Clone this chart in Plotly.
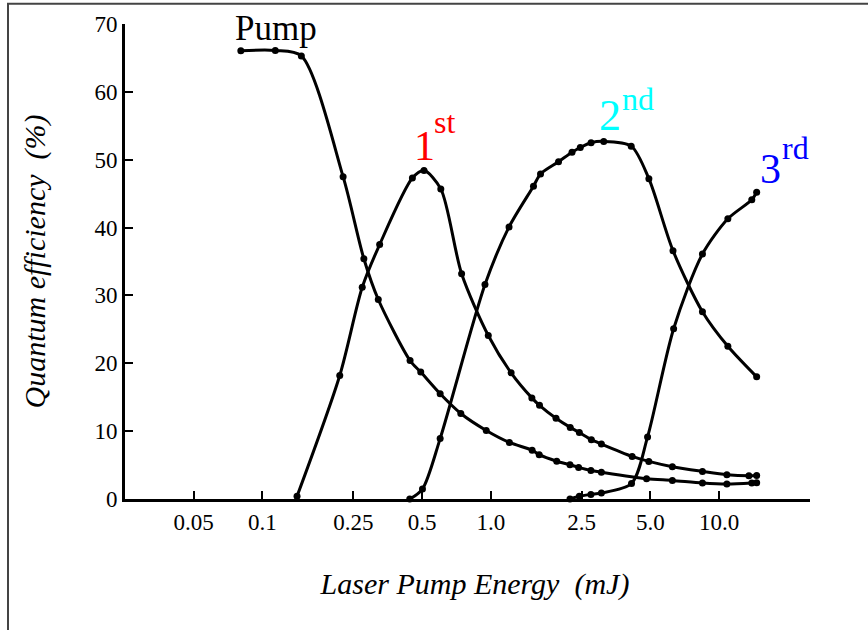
import plotly.graph_objects as go

# ---- data ----
pump_x = [0.0804, 0.1138, 0.148, 0.2255, 0.278, 0.3215, 0.443, 0.4933, 0.600, 0.739,
          0.955, 1.206, 1.517, 1.629, 1.944, 2.222, 2.424, 2.744, 3.05, 4.81, 6.24, 8.45, 10.81, 13.9, 14.6]
pump_y = [66.06, 66.1, 65.3, 47.5, 35.4, 29.4, 20.4, 18.7, 15.5, 12.6,
          10.1, 8.34, 7.19, 6.53, 5.57, 5.05, 4.66, 4.20, 3.95, 2.99, 2.74, 2.36, 2.21, 2.35, 2.4]

first_x = [0.1417, 0.218, 0.2735, 0.326, 0.4535, 0.510, 0.604, 0.745, 0.975, 1.227, 1.513, 1.634,
           1.93, 2.228, 2.442, 2.757, 3.05, 4.16, 4.92, 6.24, 8.45, 10.81, 13.5, 14.6]
first_y = [0.4, 18.2, 31.2, 37.5, 47.3, 48.4, 45.7, 33.2, 24.1, 18.6, 14.9, 13.8,
           11.9, 10.55, 9.8, 8.74, 8.1, 6.28, 5.54, 4.76, 4.07, 3.58, 3.43, 3.48]

second_x = [0.4416, 0.502, 0.600, 0.943, 1.202, 1.538, 1.651, 1.98, 2.268, 2.466, 2.749, 3.123,
            4.12, 4.924, 6.28, 8.45, 10.92, 14.6]
second_y = [0.0, 1.47, 8.9, 31.6, 40.1, 46.1, 47.9, 49.7, 51.1, 51.8, 52.5, 52.7,
            52.0, 47.2, 36.6, 27.6, 22.5, 18.0]

third_x = [2.222, 2.442, 2.744, 3.05, 4.133, 4.859, 6.32, 8.45, 10.92, 13.9, 14.6]
third_y = [0.0, 0.41, 0.68, 0.88, 2.28, 9.15, 25.1, 36.1, 41.3, 44.1, 45.2]

x_tick_vals = [0.05, 0.1, 0.25, 0.5, 1.0, 2.5, 5.0, 10.0, 25.0]
x_tick_text = ["0.05", "0.1", "0.25", "0.5", "1.0", "2.5", "5.0", "10.0", " "]
y_tick_vals = [0, 10, 20, 30, 40, 50, 60, 70]

SERIF = "Liberation Serif"

fig = go.Figure()
for xs, ys in [(pump_x, pump_y), (first_x, first_y), (second_x, second_y), (third_x, third_y)]:
    fig.add_trace(go.Scatter(
        x=xs, y=ys, mode="lines+markers",
        line=dict(color="black", width=3, shape="spline", smoothing=0.8),
        marker=dict(color="black", size=7),
        showlegend=False, cliponaxis=False,
    ))


def label(text, x, y, size, color):
    return dict(text=text, x=x, y=y, xref="x", yref="y", showarrow=False,
                xanchor="left", yanchor="middle",
                font=dict(family=SERIF, size=size, color=color))


fig.update_layout(
    width=868, height=630,
    margin=dict(l=125, r=58, t=24, b=131),
    paper_bgcolor="white", plot_bgcolor="white",
    font=dict(family=SERIF, color="black", size=23),
    xaxis=dict(
        type="log", range=[-1.60206, 1.39794],
        tickmode="array", tickvals=x_tick_vals, ticktext=x_tick_text,
        ticks="inside", ticklen=8, tickwidth=2, tickcolor="black",
        showline=True, linecolor="black", linewidth=3,
        showgrid=False, zeroline=False,
        tickfont=dict(family=SERIF, size=23),
        title=dict(text="<i>\u00a0\u00a0Laser Pump Energy\u00a0\u00a0(mJ)</i>",
                   font=dict(family=SERIF, size=30), standoff=40),
    ),
    yaxis=dict(
        range=[0, 70],
        tickmode="array", tickvals=y_tick_vals,
        ticks="inside", ticklen=8, tickwidth=2, tickcolor="black",
        showline=True, linecolor="black", linewidth=3,
        showgrid=False, zeroline=False,
        tickfont=dict(family=SERIF, size=23),
        title=dict(text="<i>Quantum efficiency\u00a0\u00a0(%)</i>",
                   font=dict(family=SERIF, size=30), standoff=40),
    ),
    shapes=[dict(type="rect", xref="paper", yref="paper",
                 x0=-0.1708, x1=1.3, y0=-0.5, y1=1.0427,
                 line=dict(color="#444444", width=2), fillcolor="rgba(0,0,0,0)", layer="below")],
    annotations=[
        dict(text="Pump", x=-0.9407, y=69.3, xref="x", yref="y", showarrow=False,
             xanchor="center", yanchor="middle",
             font=dict(family=SERIF, size=35, color="black")),
        label("1", -0.3452, 52.05, 42, "#ff0000"),
        label("st", -0.2597, 55.6, 32, "#ff0000"),
        label("2", 0.4651, 56.47, 44, "#00ffff"),
        label("nd", 0.5658, 59.0, 32, "#00ffff"),
        label("3", 1.1680, 48.66, 42, "#0000ff"),
        label("rd", 1.2687, 51.8, 32, "#0000ff"),
    ],
)

fig.write_html("out.html")
